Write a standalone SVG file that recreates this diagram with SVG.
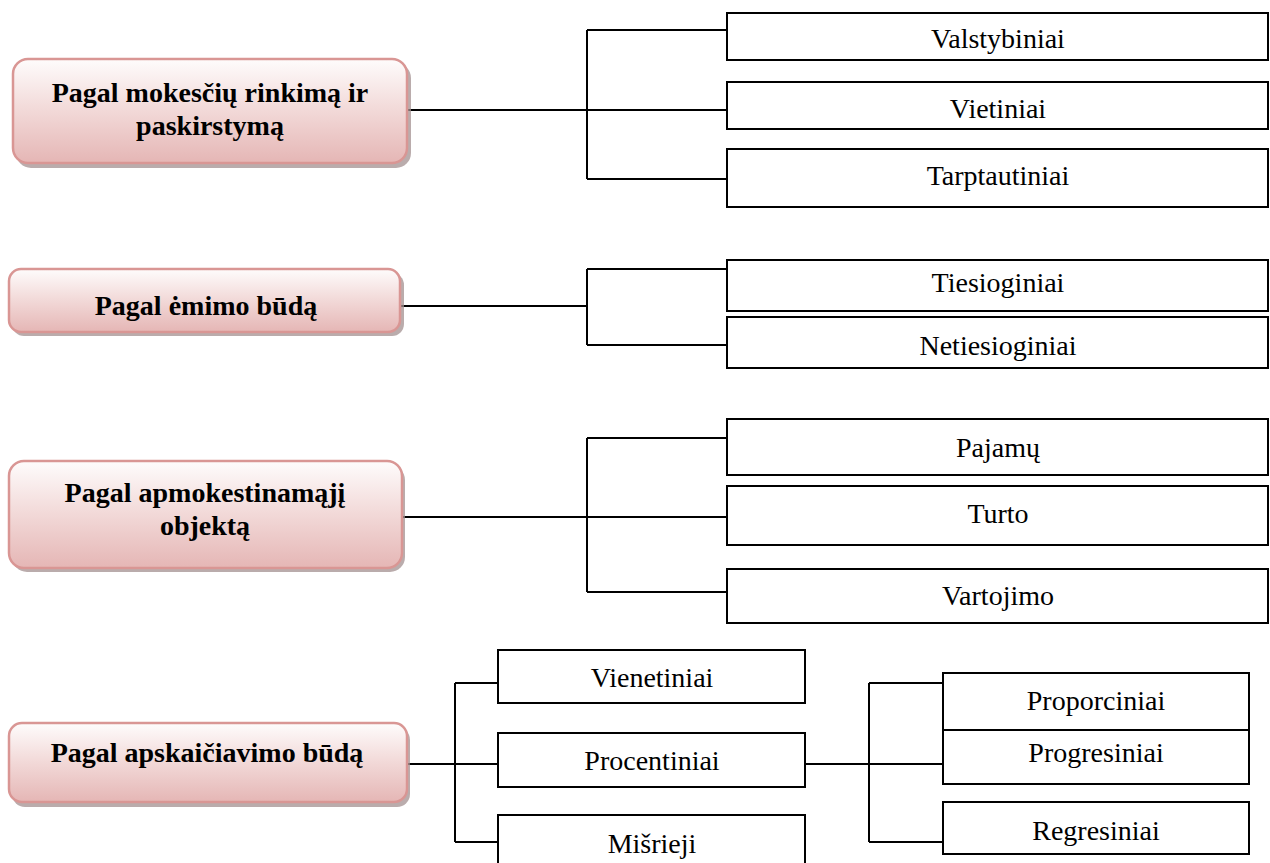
<svg xmlns="http://www.w3.org/2000/svg" width="1270" height="863" viewBox="0 0 1270 863">
<style>
.pbox{fill:url(#pg);stroke:#d99694;stroke-width:2.5}
.shadow{fill:#a39090;opacity:0.75}
.ptxt{font-family:'Liberation Serif','Times New Roman','DejaVu Serif',serif;font-weight:bold;font-size:28px;fill:#000;text-anchor:middle}
.ctxt{font-family:'Liberation Serif','Times New Roman','DejaVu Serif',serif;font-weight:normal;font-size:28px;fill:#000;text-anchor:middle}
.cbox{fill:#fff;stroke:#000;stroke-width:2}
.ln{fill:none;stroke:#000;stroke-width:2}
</style>
<defs>
<linearGradient id="pg" x1="0" y1="0" x2="0" y2="1">
<stop offset="0" stop-color="#fefcfc"/>
<stop offset="0.45" stop-color="#f3dcdb"/>
<stop offset="1" stop-color="#e5b6b5"/>
</linearGradient>
<clipPath id="clipV"><rect x="727" y="12" width="541" height="45"/></clipPath>
</defs>
<rect width="1270" height="863" fill="#fff"/>

<g id="connectors">
<path class="ln" d="M407 110 H727 M587 30 V179 M587 30 H727 M587 179 H727"/>
<path class="ln" d="M401 306 H587 M587 269 V345 M587 269 H727 M587 345 H727"/>
<path class="ln" d="M402 517 H727 M587 438 V592 M587 438 H727 M587 592 H727"/>
<path class="ln" d="M407 764 H498 M455 683 V842 M455 683 H498 M455 842 H498"/>
<path class="ln" d="M805 764 H943 M869 683 V842 M869 683 H943 M869 842 H943"/>
</g>

<g id="n1">
<rect class="shadow" x="16" y="63" width="395" height="105" rx="15"/>
<rect class="pbox" x="13" y="59" width="394" height="104" rx="15"/>
<text class="ptxt" font-family="Liberation Serif, serif" x="210" y="102">Pagal mokesčių rinkimą ir</text>
<text class="ptxt" font-family="Liberation Serif, serif" x="210" y="135">paskirstymą</text>
</g>
<g id="n1a"><rect class="cbox" x="727" y="13" width="541" height="47"/><text class="ctxt" font-family="Liberation Serif, serif" x="998" y="48" clip-path="url(#clipV)">Valstybiniai</text></g>
<g id="n1b"><rect class="cbox" x="727" y="82" width="541" height="47"/><text class="ctxt" font-family="Liberation Serif, serif" x="998" y="118">Vietiniai</text></g>
<g id="n1c"><rect class="cbox" x="727" y="149" width="541" height="58"/><text class="ctxt" font-family="Liberation Serif, serif" x="998" y="185">Tarptautiniai</text></g>

<g id="n2">
<rect class="shadow" x="12" y="273" width="392" height="63" rx="12"/>
<rect class="pbox" x="9" y="269" width="391" height="63" rx="12"/>
<text class="ptxt" font-family="Liberation Serif, serif" x="206" y="315">Pagal ėmimo būdą</text>
</g>
<g id="n2a"><rect class="cbox" x="727" y="260" width="541" height="51"/><text class="ctxt" font-family="Liberation Serif, serif" x="998" y="292">Tiesioginiai</text></g>
<g id="n2b"><rect class="cbox" x="727" y="317" width="541" height="51"/><text class="ctxt" font-family="Liberation Serif, serif" x="998" y="355">Netiesioginiai</text></g>

<g id="n3">
<rect class="shadow" x="12" y="465" width="393" height="107" rx="15"/>
<rect class="pbox" x="9" y="461" width="393" height="107" rx="15"/>
<text class="ptxt" font-family="Liberation Serif, serif" x="205" y="502">Pagal apmokestinamąjį</text>
<text class="ptxt" font-family="Liberation Serif, serif" x="205" y="535">objektą</text>
</g>
<g id="n3a"><rect class="cbox" x="727" y="419" width="541" height="56"/><text class="ctxt" font-family="Liberation Serif, serif" x="998" y="457">Pajamų</text></g>
<g id="n3b"><rect class="cbox" x="727" y="486" width="541" height="59"/><text class="ctxt" font-family="Liberation Serif, serif" x="998" y="523">Turto</text></g>
<g id="n3c"><rect class="cbox" x="727" y="569" width="541" height="54"/><text class="ctxt" font-family="Liberation Serif, serif" x="998" y="605">Vartojimo</text></g>

<g id="n4">
<rect class="shadow" x="12" y="727" width="398" height="80" rx="13"/>
<rect class="pbox" x="9" y="723" width="398" height="79" rx="13"/>
<text class="ptxt" font-family="Liberation Serif, serif" x="207" y="762">Pagal apskaičiavimo būdą</text>
</g>
<g id="n4a"><rect class="cbox" x="498" y="650" width="307" height="53"/><text class="ctxt" font-family="Liberation Serif, serif" x="652" y="687">Vienetiniai</text></g>
<g id="n4b"><rect class="cbox" x="498" y="733" width="307" height="54"/><text class="ctxt" font-family="Liberation Serif, serif" x="652" y="770">Procentiniai</text></g>
<g id="n4c"><rect class="cbox" x="498" y="815" width="307" height="60"/><text class="ctxt" font-family="Liberation Serif, serif" x="652" y="853">Mišrieji</text></g>
<g id="n4b1"><rect class="cbox" x="943" y="673" width="306" height="57"/><text class="ctxt" font-family="Liberation Serif, serif" x="1096" y="710">Proporciniai</text></g>
<g id="n4b2"><rect class="cbox" x="943" y="730" width="306" height="54"/><text class="ctxt" font-family="Liberation Serif, serif" x="1096" y="762">Progresiniai</text></g>
<g id="n4b3"><rect class="cbox" x="943" y="802" width="306" height="52"/><text class="ctxt" font-family="Liberation Serif, serif" x="1096" y="840">Regresiniai</text></g>
</svg>
